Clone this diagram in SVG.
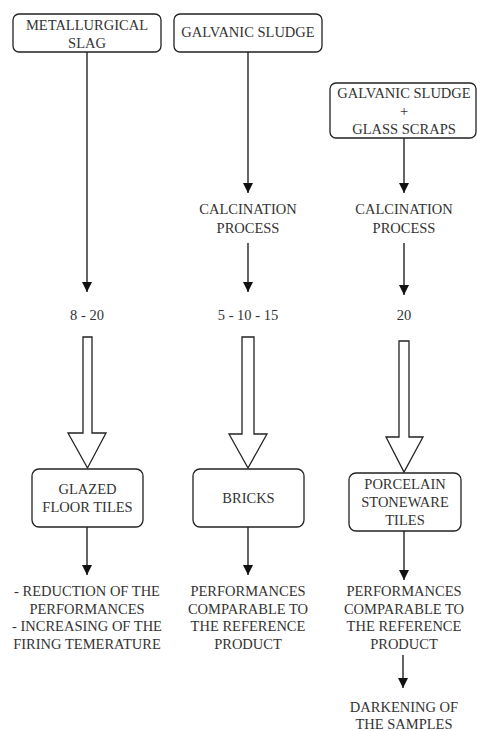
<svg xmlns="http://www.w3.org/2000/svg" width="477" height="731" viewBox="0 0 477 731" font-family="Liberation Serif, Times New Roman, serif">
<style>
text{font-size:14.5px;fill:#333;text-anchor:middle}
.box{fill:#fff;stroke:#222;stroke-width:1.3}
.ln{stroke:#111;stroke-width:1.3;fill:none}
.blk{fill:#fff;stroke:#222;stroke-width:1.3;stroke-linejoin:miter}
</style>
<defs>
<marker id="ah" viewBox="0 0 10 10" refX="10" refY="5" markerWidth="10" markerHeight="10" markerUnits="userSpaceOnUse" orient="auto">
<path d="M0,0 L10,5 L0,10 Z" fill="#111"/>
</marker>
</defs>
<rect width="477" height="731" fill="#fff"/>
<g id="connectors">
<line class="ln" x1="87" y1="52" x2="87" y2="292" marker-end="url(#ah)"/>
<line class="ln" x1="248" y1="52" x2="248" y2="193" marker-end="url(#ah)"/>
<line class="ln" x1="404" y1="138" x2="404" y2="193" marker-end="url(#ah)"/>
<line class="ln" x1="248" y1="243" x2="248" y2="292" marker-end="url(#ah)"/>
<line class="ln" x1="404" y1="243" x2="404" y2="295" marker-end="url(#ah)"/>
<path class="blk" d="M83,337 H92 V433 H106 L87.5,468 L68,433 H83 Z"/>
<path class="blk" d="M242,337 H254 V434 H267 L248,468 L229,434 H242 Z"/>
<path class="blk" d="M399,341 H409 V437 H423 L404,472 L386,437 H399 Z"/>
<line class="ln" x1="87" y1="527" x2="87" y2="575" marker-end="url(#ah)"/>
<line class="ln" x1="248" y1="527" x2="248" y2="575" marker-end="url(#ah)"/>
<line class="ln" x1="404" y1="531" x2="404" y2="580" marker-end="url(#ah)"/>
<line class="ln" x1="403" y1="655" x2="403" y2="688" marker-end="url(#ah)"/>
</g>
<g id="metallurgical-slag">
<rect class="box" x="13" y="14" width="148" height="38" rx="6"/>
<text x="87" y="30">METALLURGICAL</text>
<text x="87" y="48">SLAG</text>
</g>
<g id="galvanic-sludge">
<rect class="box" x="174" y="14" width="148" height="38" rx="6"/>
<text x="248" y="37">GALVANIC SLUDGE</text>
</g>
<g id="galvanic-glass">
<rect class="box" x="330" y="83" width="146" height="55" rx="6"/>
<text x="404" y="98">GALVANIC SLUDGE</text>
<text x="404" y="116">+</text>
<text x="404" y="134">GLASS SCRAPS</text>
</g>
<g id="calcination-1">
<text x="248" y="214">CALCINATION</text>
<text x="248" y="233">PROCESS</text>
</g>
<g id="calcination-2">
<text x="404" y="214">CALCINATION</text>
<text x="404" y="233">PROCESS</text>
</g>
<g id="pct-1"><text x="87" y="320">8 - 20</text></g>
<g id="pct-2"><text x="248" y="320">5 - 10 - 15</text></g>
<g id="pct-3"><text x="404" y="320">20</text></g>
<g id="glazed-floor-tiles">
<rect class="box" x="32" y="469" width="111" height="58" rx="7"/>
<text x="87.5" y="494">GLAZED</text>
<text x="87.5" y="512">FLOOR TILES</text>
</g>
<g id="bricks">
<rect class="box" x="193" y="469" width="111" height="58" rx="7"/>
<text x="248.5" y="503">BRICKS</text>
</g>
<g id="porcelain">
<rect class="box" x="349" y="473" width="112" height="58" rx="7"/>
<text x="405" y="489">PORCELAIN</text>
<text x="405" y="507">STONEWARE</text>
<text x="405" y="525">TILES</text>
</g>
<g id="result-1">
<text x="87" y="596">- REDUCTION OF THE</text>
<text x="87" y="613.7">PERFORMANCES</text>
<text x="87" y="631.4">- INCREASING OF THE</text>
<text x="87" y="649">FIRING TEMERATURE</text>
</g>
<g id="result-2">
<text x="248" y="596">PERFORMANCES</text>
<text x="248" y="613.7">COMPARABLE TO</text>
<text x="248" y="631.4">THE REFERENCE</text>
<text x="248" y="649">PRODUCT</text>
</g>
<g id="result-3">
<text x="404" y="596">PERFORMANCES</text>
<text x="404" y="613.7">COMPARABLE TO</text>
<text x="404" y="631.4">THE REFERENCE</text>
<text x="404" y="649">PRODUCT</text>
</g>
<g id="darkening">
<text x="404" y="712">DARKENING OF</text>
<text x="404" y="729">THE SAMPLES</text>
</g>
</svg>
